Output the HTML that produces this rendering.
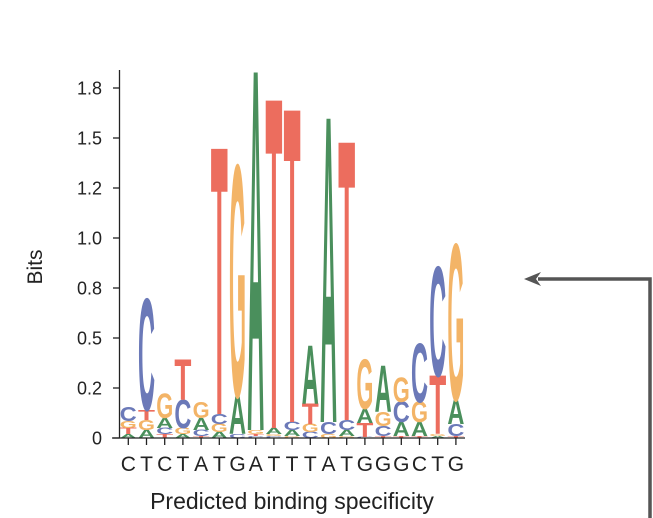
<!DOCTYPE html>
<html><head><meta charset="utf-8"><style>
body{margin:0;background:#fff;}
svg{display:block;font-family:"Liberation Sans",sans-serif;}
</style></head><body>
<svg id="chart" width="653" height="518" viewBox="0 0 653 518">
<g id="marks"></g>
<g id="axes"></g>
<text x="42" y="267" font-size="21" fill="#222" text-anchor="middle" transform="rotate(-90 42 267)">Bits</text>
<text x="292" y="509" font-size="23" fill="#222" text-anchor="middle">Predicted binding specificity</text>
<g>
<polyline points="538,279 650,279 650,518" fill="none" stroke="#555" stroke-width="3.5"/>
<polygon points="524,279 541,272 536,279 541,286" fill="#555"/>
</g>
</svg>
<script>
const consensus = ["C","T","C","T","A","T","G","A","T","T","T","A","T","G","G","G","C","T","G"];
const stackLetters = [
 ["A","T","G","C"],["A","G","T","C"],["T","C","A","G"],["A","G","C","T"],["T","C","A","G"],
 ["A","G","C","T"],["C","A","G"],["C","T","G","A"],["C","G","A","T"],["G","A","C","T"],
 ["C","G","T","A"],["G","C","A"],["G","A","C","T"],["C","T","A","G"],["T","C","G","A"],
 ["T","A","C","G"],["T","A","G","C"],["A","G","T","C"],["T","C","A","G"]
];
const stackHeights = [
 [0.02,0.03,0.035,0.07],[0.04,0.05,0.05,0.55],[0.02,0.03,0.05,0.12],[0.02,0.03,0.14,0.2],[0.01,0.03,0.06,0.08],
 [0.03,0.04,0.05,1.32],[0.02,0.19,1.14],[0.01,0.01,0.02,1.78],[0.01,0.01,0.03,1.63],[0.01,0.03,0.04,1.55],
 [0.03,0.04,0.1,0.29],[0.02,0.06,1.51],[0.01,0.03,0.05,1.38],[0.005,0.07,0.07,0.245],[0.01,0.05,0.07,0.23],
 [0.01,0.07,0.1,0.12],[0.01,0.07,0.1,0.29],[0.01,0.01,0.29,0.54],[0.01,0.06,0.12,0.77]
];
const yTicks = [0,0.25,0.5,0.75,1.0,1.25,1.5,1.75];
const yTickLabels = ["0","0.2","0.5","0.8","1.0","1.2","1.5","1.8"];
const colors = {A:"#4a8f5c",C:"#6b79b8",G:"#f3b467",T:"#ec6d5e"};
const NS="http://www.w3.org/2000/svg";
const y0=438, pxPerBit=200, x0=128.3, step=18.2, lw=17;
const capH=68.5;
const yScale=v=>y0-v*pxPerBit;
const xScale=i=>x0+i*step;
const marks=document.getElementById('marks');
stackLetters.forEach((col,i)=>{
  let acc=0;
  col.forEach((L,j)=>{
    const h=stackHeights[i][j];
    const yb=yScale(acc); acc+=h;
    const hp=h*pxPerBit;
    const t=document.createElementNS(NS,'text');
    
    
    t.setAttribute('x',0);t.setAttribute('y',0);
    t.setAttribute('font-size',100);t.setAttribute('font-weight','bold');
    t.setAttribute('textLength',70);t.setAttribute('lengthAdjust','spacingAndGlyphs');
    t.setAttribute('fill',colors[L]);
    t.setAttribute('transform',`translate(${xScale(i)-lw/2},${yb}) scale(${lw/70},${hp/capH})`);
    t.textContent=L;
    marks.appendChild(t);
  });
});
const ax=document.getElementById('axes');
function line(x1,y1,x2,y2,name){const l=document.createElementNS(NS,'line');
 l.setAttribute('x1',x1);l.setAttribute('y1',y1);l.setAttribute('x2',x2);l.setAttribute('y2',y2);
 l.setAttribute('stroke','#222');l.setAttribute('stroke-width',1.3);
 
 
 ax.appendChild(l);}
line(119.5,70,119.5,438,'y-axis-line');
line(112,438,465,438,'x-axis-line');
yTicks.forEach((v,k)=>{
  line(113,yScale(v),119.5,yScale(v),'y-tick');
  const t=document.createElementNS(NS,'text');
  
  
  t.setAttribute('x',102);t.setAttribute('y',yScale(v)+6.5);
  t.setAttribute('font-size',18);t.setAttribute('text-anchor','end');t.setAttribute('fill','#222');
  t.textContent=yTickLabels[k];ax.appendChild(t);
});
consensus.forEach((c,i)=>{
  line(xScale(i),438,xScale(i),445,'x-tick');
  const t=document.createElementNS(NS,'text');
  
  
  t.setAttribute('x',xScale(i));t.setAttribute('y',471);
  t.setAttribute('font-size',21);t.setAttribute('text-anchor','middle');t.setAttribute('fill','#222');
  t.textContent=c;ax.appendChild(t);
});
</script>
</body></html>
